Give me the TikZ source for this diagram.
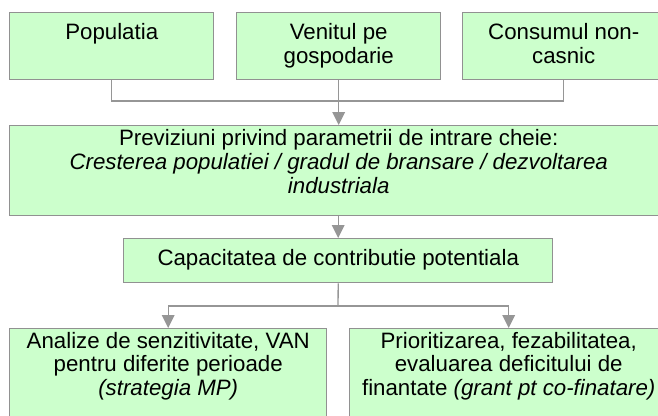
\documentclass[tikz,border=0pt]{standalone}
\usepackage{fontspec}
\setmainfont{Liberation Sans}
\usetikzlibrary{arrows.meta}
\definecolor{boxfill}{RGB}{204,255,204}
\definecolor{boxline}{RGB}{145,145,145}
\definecolor{connline}{RGB}{150,150,150}
\newcommand\bxt[4]{\parbox[c][#2][t]{#1}{\centering\rule{0pt}{#3}#4\par}}
\tikzset{
  box/.style={draw=boxline, fill=boxfill, line width=1.1pt, inner sep=0pt, anchor=north west,
    font=\fontsize{16.7pt}{17.9pt}\selectfont},
  conn/.style={draw=connline, line width=1pt},
  arr/.style={conn, -{Triangle[width=9.5pt,length=9.75pt]}}
}
\begin{document}
\begin{tikzpicture}[x=0.75pt,y=-0.75pt]
\useasboundingbox (0,0) rectangle (658,415);
\clip (0,0) rectangle (658,415);
\node[box] (pop) at (9,12) {\bxt{153pt}{50.25pt}{20.25pt}{Populatia}};
\node[box] (ven) at (236,12) {\bxt{153pt}{50.25pt}{20.25pt}{Venitul pe\\gospodarie}};
\node[box] (cons) at (462,12) {\bxt{151.5pt}{50.25pt}{20.25pt}{Consumul non-\\casnic}};
\node[box] (prev) at (9,125) {\bxt{493.5pt}{67.5pt}{15pt}{Previziuni privind parametrii de intrare cheie:\\\itshape Cresterea populatiei / gradul de bransare / dezvoltarea\\industriala}};
\node[box] (cap) at (123,238) {\bxt{321.75pt}{33pt}{20.25pt}{Capacitatea de contributie potentiala}};
\node[box] (anl) at (9,328) {\bxt{237.75pt}{110pt}{14.5pt}{Analize de senzitivitate, VAN\\pentru diferite perioade\\\textit{(strategia MP)}}};
\node[box] (prio) at (349,328) {\bxt{238.5pt}{110pt}{14.5pt}{Prioritizarea, fezabilitatea,\\evaluarea deficitului de\\finantate \textit{(grant pt co-finatare)}}};
\coordinate (j1) at (338,101);
\coordinate (j2) at (338,306);
\draw[conn] (pop.south) |- (j1) -| (cons.south);
\draw[arr] (ven.south) -- (ven.south |- prev.north);
\draw[arr] (prev.south -| cap.north) -- (cap.north);
\draw[conn] (cap.south) -- (j2);
\draw[arr] (j2) -| (anl.north);
\draw[arr] (j2) -| (prio.north);
\end{tikzpicture}
\end{document}
